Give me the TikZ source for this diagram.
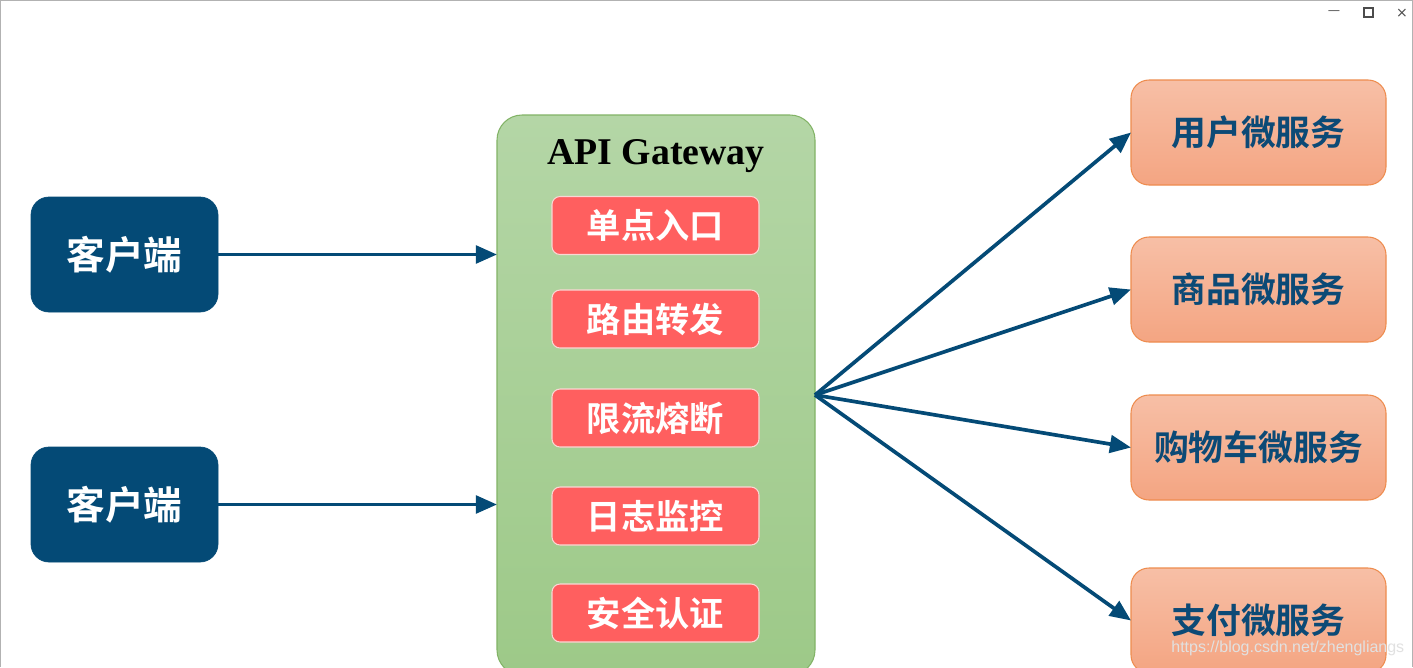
\documentclass[tikz,border=0pt]{standalone}
\usepackage{fontspec}
\setmainfont{Liberation Serif}
\newfontfamily\cjk{Noto Sans CJK SC}[BoldFont={Noto Sans CJK SC Bold}]
\newfontfamily\wmfont{Liberation Sans}
\newfontfamily\symfont{DejaVu Sans}
\usetikzlibrary{arrows.meta}
\definecolor{cblue}{RGB}{4,74,118}
\definecolor{gwtop}{RGB}{180,214,166}
\definecolor{gwbot}{RGB}{157,201,136}
\definecolor{gwline}{RGB}{130,179,102}
\definecolor{redbox}{RGB}{255,95,95}
\definecolor{redline}{RGB}{250,215,212}
\definecolor{svtop}{RGB}{247,191,166}
\definecolor{svbot}{RGB}{244,165,130}
\definecolor{svline}{RGB}{238,140,78}
\definecolor{svtext}{RGB}{12,74,118}
\definecolor{wmcol}{RGB}{225,225,225}
\newcommand\px{0.02cm}
\tikzset{
  client/.style={draw=cblue, fill=cblue, rounded corners=18*\px, minimum width=187*\px, minimum height=115*\px, inner sep=0pt, outer sep=0pt, text=white, font=\cjk\bfseries\fontsize{22}{24}\selectfont},
  gwbox/.style={draw=gwline, line width=0.6pt, top color=gwtop, bottom color=gwbot, rounded corners=25*\px, minimum width=318*\px, minimum height=560*\px, inner sep=0pt, outer sep=0pt},
  func/.style={draw=redline, line width=0.6pt, fill=redbox, rounded corners=8*\px, minimum width=207*\px, minimum height=58*\px, inner sep=0pt, outer sep=0pt, text=white, font=\cjk\bfseries\fontsize{19.5}{22}\selectfont},
  svc/.style={draw=svline, line width=0.6pt, top color=svtop, bottom color=svbot, rounded corners=18*\px, minimum width=255*\px, minimum height=105*\px, inner sep=0pt, outer sep=0pt, text=svtext, font=\cjk\bfseries\fontsize{19.8}{22}\selectfont},
  conn/.style={draw=cblue, line width=2.1pt, -{Triangle[length=12pt,width=10pt]}},
}
\begin{document}
\begin{tikzpicture}[x=0.02cm, y=-0.02cm]
\clip (0,0) rectangle (1413,667);
\useasboundingbox (0,0) rectangle (1413,667);
\fill[white] (0,0) rectangle (1413,667);
\draw[gray!60, line width=0.8pt] (0,667) -- (0,0) -- (1413,0) -- (1413,667);
% window controls
\node[text=black!70, font=\symfont\fontsize{7}{8}\selectfont] (wmin) at (1334,13) {—};
\draw[black!70, line width=0.6pt] (1364,8) rectangle (1373,17);
\node[text=black!70, font=\symfont\fontsize{8}{8}\selectfont] (wclose) at (1402,13) {×};
% clients
\node[client] (c1) at (124.5,254.5) {客户端};
\node[client] (c2) at (124.5,504.5) {客户端};
% gateway
\node[gwbox] (gw) at (656,395) {};
\node[font=\bfseries\fontsize{21.5}{24}\selectfont, text=black] (gwt) at (656,156) {API Gateway};
\node[func] (f1) at (655.5,225.5) {单点入口};
\node[func] (f2) at (655.5,319) {路由转发};
\node[func] (f3) at (655.5,418) {限流熔断};
\node[func] (f4) at (655.5,516) {日志监控};
\node[func] (f5) at (655.5,613) {安全认证};
% services
\node[svc] (s1) at (1258.5,132.5) {用户微服务};
\node[svc] (s2) at (1258.5,289.5) {商品微服务};
\node[svc] (s3) at (1258.5,447.5) {购物车微服务};
\node[svc] (s4) at (1258.5,620.5) {支付微服务};
% connectors
\draw[conn] (c1.east) -- (c1.east -| gw.west);
\draw[conn] (c2.east) -- (c2.east -| gw.west);
\draw[conn] (gw.east) -- (s1.west);
\draw[conn] (gw.east) -- (s2.west);
\draw[conn] (gw.east) -- (s3.west);
\draw[conn] (gw.east) -- (s4.west);
% watermark
\node[anchor=west, text=wmcol, font=\wmfont\fontsize{9.1}{10}\selectfont, inner sep=0pt] (wm) at (1171,648) {https://blog.csdn.net/zhengliangs};
\end{tikzpicture}
\end{document}
